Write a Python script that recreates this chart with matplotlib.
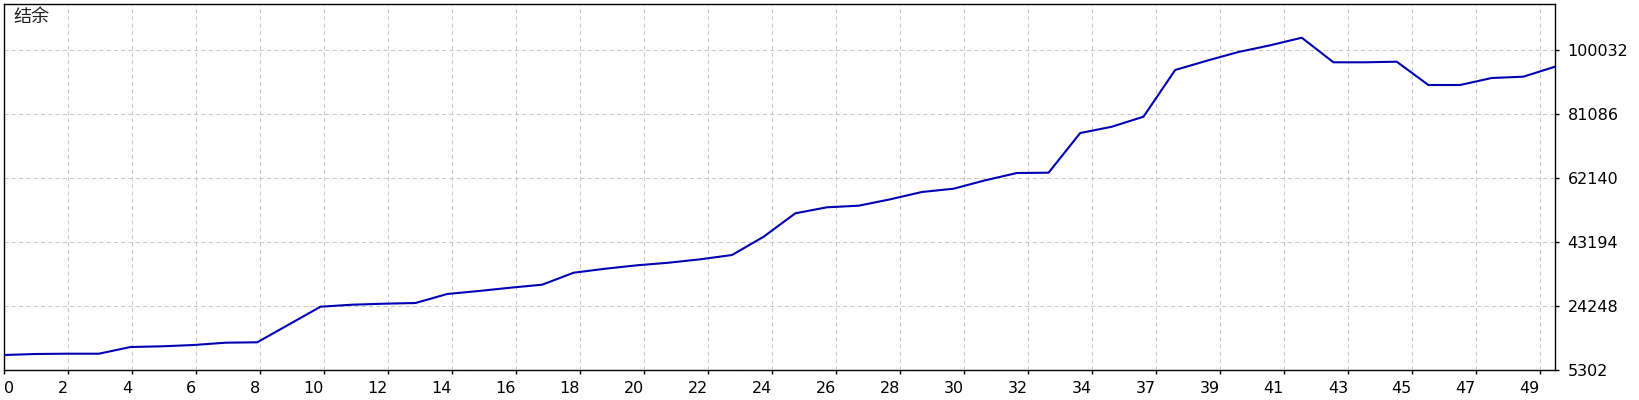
import numpy as np
import matplotlib
matplotlib.use("Agg")
import matplotlib.pyplot as plt

# balance after each trade
balance = [9742, 10038, 10127, 10127, 12110, 12318, 12703, 13384, 13502, 18770,
           24041, 24633, 24929, 25135, 27800, 28688, 29666, 30553, 34105, 35290,
           36296, 37066, 38073, 39345, 44762, 51690, 53467, 53940, 55834, 58000,
           58971, 61460, 63620, 63710, 75450, 77320, 80290, 94110, 96860, 99440,
           101420, 103670, 96390, 96390, 96570, 89670, 89670, 91740, 92130, 95090]

y_ticks = [5302, 24248, 43194, 62140, 81086, 100032]
y_top = 113650
x_labels = ["0", "2", "4", "6", "8", "10", "12", "14", "16", "18", "20", "22", "24",
            "26", "28", "30", "32", "34", "37", "39", "41", "43", "45", "47", "49"]
title = "结余"

W, H, DPI = 1640, 400, 100
left_px, right_px, top_px, bottom_px = 4, 1555, 4, 370

fig = plt.figure(figsize=(W / DPI, H / DPI), dpi=DPI)
ax = fig.add_axes([left_px / W, (H - bottom_px) / H,
                   (right_px - left_px) / W, (bottom_px - top_px) / H])

x = np.arange(len(balance))
ax.plot(x, balance, color="#0000b4", lw=1.5, solid_joinstyle="round", zorder=3)

ax.set_xlim(0, len(balance) - 1)
ax.set_ylim(y_ticks[0], y_top)

# MT-style x ticks: one every 64 px, labelled with the trade number
px_per_unit = (right_px - left_px) / (len(balance) - 1)
xt = np.arange(len(x_labels)) * 64 / px_per_unit
ax.set_xticks(xt)
ax.set_xticklabels(x_labels)
for lab in ax.get_xticklabels():
    lab.set_horizontalalignment("right")
ax.get_xticklabels()[0].set_horizontalalignment("left")
ax.get_xticklabels()[0].set_x(3 / px_per_unit)

ax.set_yticks(y_ticks)
ax.set_yticklabels([str(v) for v in y_ticks])
ax.yaxis.tick_right()

ax.tick_params(axis="x", direction="out", length=3, width=1, pad=5,
               labelsize=11.5, colors="black")
ax.tick_params(axis="y", direction="out", length=3, width=1, pad=6,
               labelsize=11.5, colors="black")

ax.grid(True, color="#c8c8c8", lw=0.75, linestyle=(0, (4, 3)))
for s in ax.spines.values():
    s.set_color("black")
    s.set_linewidth(1.0)

ax.text(9 / (right_px - left_px), 0.99, title, transform=ax.transAxes,
        ha="left", va="top", fontsize=13,
        family=["Noto Sans CJK SC", "DejaVu Sans"], color="#202020")

fig.savefig("out.png", dpi=DPI)
